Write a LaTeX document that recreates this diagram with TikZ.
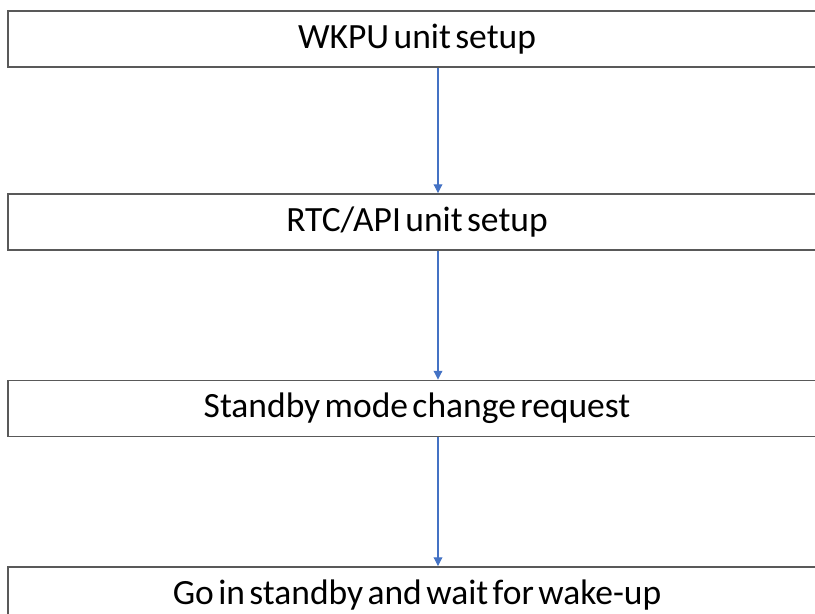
\documentclass[tikz,border=0pt]{standalone}
\usepackage{fontspec}
\setmainfont{Carlito}[WordSpace=0.55]
\usetikzlibrary{arrows.meta}
\definecolor{boxline}{HTML}{595959}
\definecolor{flowblue}{HTML}{4472C4}
\tikzstyle{stepbox}=[draw=boxline, line width=1.1pt, minimum width=16.36cm, minimum height=1.12cm, inner sep=0pt, font=\fontsize{20.2}{24}\selectfont]
\tikzstyle{flow} = [draw=flowblue, line width=0.6pt, -{Triangle[length=5pt,width=5pt]}]

\begin{document}
\begin{tikzpicture}
				\useasboundingbox (0,0) rectangle (16.3,-12.26);
				\clip (0,0) rectangle (16.3,-12.26);

				% the four steps, top to bottom
				\foreach \pos/\name/\text in {{(8.34,-0.776)/wkpu/{WKPU unit setup}},
										{(8.34,-4.44)/rtc/{RTC/API unit setup}},
										{(8.34,-8.17)/req/{Standby mode change request}},
										{(8.34,-11.9)/wait/{Go in standby and wait for wake-up}}}
				\node[stepbox] (\name) at \pos {\text};

				% arrows run a bit right of the box centres
				\coordinate (axis) at (8.76,0);
				\foreach \source/ \dest in {wkpu/rtc, rtc/req, req/wait}
				\path[flow] (\source.south -| axis) -- (\dest.north -| axis);

			\end{tikzpicture}
\end{document}
